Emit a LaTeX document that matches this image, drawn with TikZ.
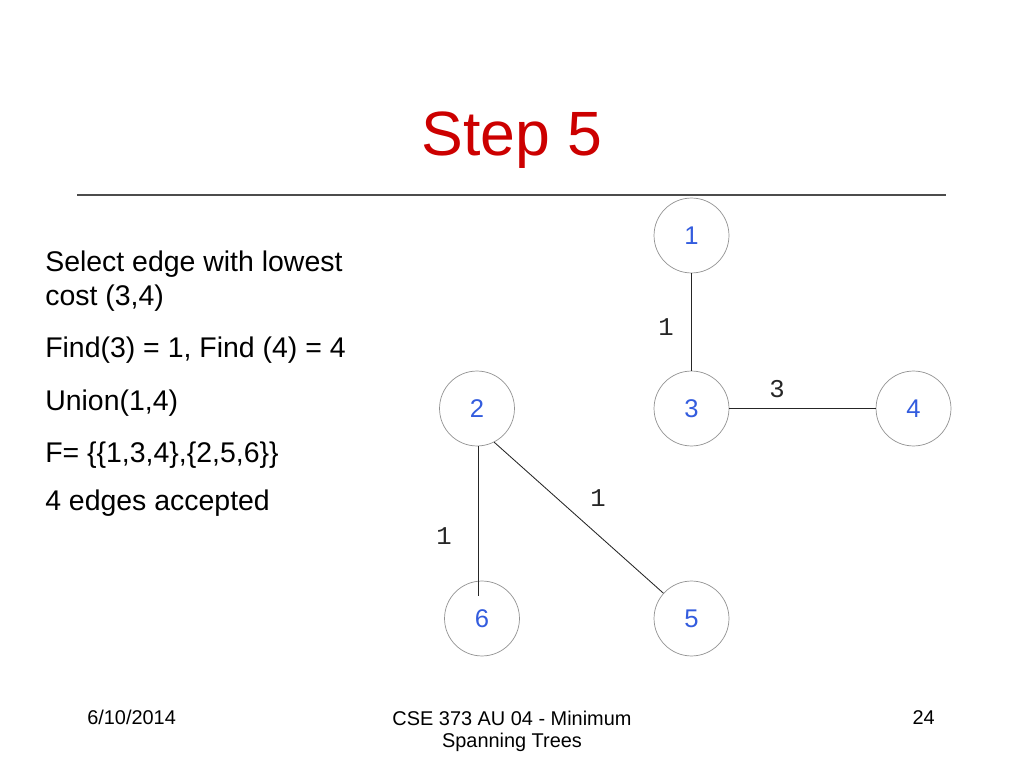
\documentclass[tikz,border=0pt]{standalone}
\usepackage{fontspec}
\setmainfont{Liberation Sans}
\newfontfamily\courier{Liberation Mono}
\definecolor{titlered}{RGB}{204,0,0}
\definecolor{nodeblue}{RGB}{51,92,222}

\begin{document}
\begin{tikzpicture}[x = 0.703125pt, y = -0.703125pt,
    vertex/.style = {circle, draw = gray!85, line width = 0.5pt, minimum size = 52.7pt, inner sep = 0pt, text = nodeblue, font = \fontsize{18}{21}\selectfont},
    weight/.style = {inner sep = 0pt, text = black!85, font = \courier\fontsize{18}{21}\selectfont},
    body/.style = {anchor = base west, inner sep = 0pt, font = \fontsize{20}{24}\selectfont},
    foot/.style = {inner sep = 0pt, font = \fontsize{14}{16}\selectfont},
    edge/.style = {black!85, line width = 0.6pt}]
    \useasboundingbox (0, 0) rectangle (1024, 768);

    \node[anchor = base, inner sep = 0pt, text = titlered, font = \fontsize{44}{53}\selectfont] (title) at (512, 156) {Step 5};
    \draw[black!70, line width = 1pt] (77, 195) -- (946, 195);

    \node[body] (line1) at (45, 272) {Select edge with lowest};
    \node[body] (line2) at (45, 305) {cost (3,4)};
    \node[body] (line3) at (45, 357) {Find(3) = 1, Find (4) = 4};
    \node[body] (line4) at (45, 410) {Union(1,4)};
    \node[body] (line5) at (45, 462) {F= \{\{1,3,4\},\{2,5,6\}\}};
    \node[body] (line6) at (45, 510) {4 edges accepted};

    \node[vertex] (n1) at (691.5, 235.5) {1};
    \node[vertex] (n2) at (477, 408.5) {2};
    \node[vertex] (n3) at (691.5, 408.5) {3};
    \node[vertex] (n4) at (913.5, 408.5) {4};
    \node[vertex] (n5) at (691.5, 618.5) {5};
    \node[vertex] (n6) at (482, 618.5) {6};
    \coordinate (c26) at (478, 0);

    \draw[edge] (n1) -- (n3);
    \draw[edge] (n3) -- (n4);
    \draw[edge, shorten > = -10.5pt] (n2.south -| c26) -- (n6.north -| c26);
    \draw[edge] (n2.-63) -- (n5.138);

    \node[weight] (w13) at (666, 327) {1};
    \node[weight] (w34) at (777, 389) {3};
    \node[weight] (w25) at (598, 498) {1};
    \node[weight] (w26) at (444, 536) {1};

    \node[foot, anchor = base west] (date) at (87, 724) {6/10/2014};
    \node[foot, anchor = base] (course) at (512, 725) {CSE 373 AU 04 - Minimum};
    \node[foot, anchor = base] (course2) at (512, 747) {Spanning Trees};
    \node[foot, anchor = base east] (page) at (935, 724) {24};
\end{tikzpicture}
\end{document}
